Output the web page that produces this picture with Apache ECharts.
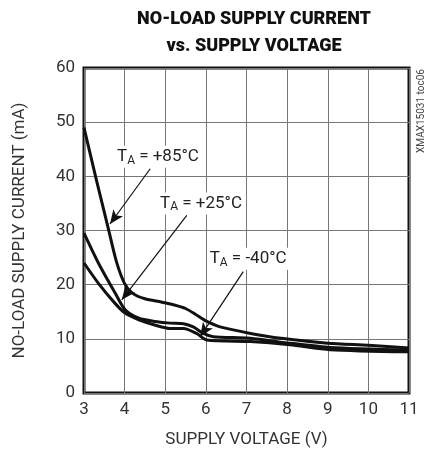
<!DOCTYPE html>
<html>
<head>
<meta charset="utf-8">
<script src="https://cdn.jsdelivr.net/npm/echarts@6/dist/echarts.min.js"></script>
<style>
html,body{margin:0;padding:0;background:#fff;}
#chart{width:429px;height:455px;}
</style>
</head>
<body>
<div id="chart"></div>
<script>
// Data
var v85 = [3.0, 3.3, 3.6, 3.8, 4.0, 4.2, 4.5, 4.9, 5.2, 5.5, 5.75, 6.0, 6.35, 7.1, 7.85, 9.0, 10.0, 11.0];
var i85 = [49.0, 39.5, 30.3, 24.2, 20.2, 18.4, 17.4, 16.8, 16.3, 15.6, 14.5, 13.3, 12.2, 11.0, 10.1, 9.2, 8.8, 8.3];
var v25 = [3.0, 3.36, 3.77, 4.02, 4.35, 4.76, 5.12, 5.45, 5.69, 5.94, 6.18, 7.09, 8.07, 9.06, 11.0];
var i25 = [29.5, 23.9, 18.4, 15.3, 13.8, 13.2, 12.9, 12.8, 12.2, 11.0, 10.4, 10.1, 9.2, 8.4, 7.9];
var vM40 = [3.0, 3.36, 3.77, 4.02, 4.35, 4.76, 5.12, 5.45, 5.77, 6.02, 7.09, 8.07, 9.06, 11.0];
var iM40 = [24.0, 20.2, 16.5, 14.7, 13.5, 12.5, 11.9, 11.9, 11.0, 9.8, 9.5, 8.9, 8.0, 7.6];
var xTicks = [3, 4, 5, 6, 7, 8, 9, 10, 11];
var yTicks = [0, 10, 20, 30, 40, 50, 60];
var seriesNames = ['+85', '+25', '-40'];
// Annotation anchors (data coordinates): label centre, arrow start, arrow tip
var labelAt = [[4.82, 43.6], [5.88, 35.0], [7.04, 24.8]];
var arrowFrom = [[4.63, 41.4], [5.53, 32.8], [6.92, 22.4]];
var arrowTo = [[3.64, 31.2], [3.93, 17.2], [5.86, 10.4]];

function pairs(xs, ys) { return xs.map(function (x, k) { return [x, ys[k]]; }); }
var FONT = 'Roboto, "Noto Sans", sans-serif';
var datasets = [pairs(v85, i85), pairs(v25, i25), pairs(vM40, iM40)];

var chart = echarts.init(document.getElementById('chart'), null, {renderer: 'canvas'});
var series = datasets.map(function (d, k) {
  return {
    type: 'line',
    name: seriesNames[k],
    data: d,
    showSymbol: false,
    smooth: 0.25,
    lineStyle: {color: '#111', width: 3},
    z: 5,
    markLine: {
      silent: true,
      symbol: ['none', 'arrow'],
      symbolSize: [9, 14],
      label: {show: false},
      lineStyle: {color: '#111', width: 1.2, type: 'solid'},
      data: [[{coord: arrowFrom[k]}, {coord: arrowTo[k]}]]
    },
    markPoint: {
      silent: true,
      symbol: 'rect',
      symbolSize: 0.1,
      data: [{coord: labelAt[k]}],
      label: {
        show: true,
        position: 'inside',
        formatter: '{t|T}{s|A}{t| = ' + seriesNames[k] + '°C}',
        backgroundColor: '#fff',
        padding: [1, 2],
        rich: {
          t: {fontFamily: FONT, fontSize: 17, color: '#222'},
          s: {fontFamily: FONT, fontSize: 12, color: '#222', padding: [8, 0, 0, 0]}
        }
      }
    }
  };
});

chart.setOption({
  animation: false,
  backgroundColor: '#fff',
  title: {
    text: 'NO-LOAD SUPPLY CURRENT\nvs. SUPPLY VOLTAGE',
    left: 249, top: 1, textAlign: 'center',
    textStyle: {fontFamily: FONT, fontSize: 18, fontWeight: 900, color: '#111', lineHeight: 27}
  },
  grid: {left: 84, right: 20, top: 68, bottom: 62, show: true, borderColor: '#111', borderWidth: 3, backgroundColor: 'transparent'},
  xAxis: {
    type: 'value', min: xTicks[0], max: xTicks[xTicks.length - 1], interval: 1,
    name: 'SUPPLY VOLTAGE (V)', nameLocation: 'middle', nameGap: 38,
    nameTextStyle: {fontFamily: FONT, fontSize: 17, color: '#333'},
    axisLine: {show: false}, axisTick: {show: false},
    axisLabel: {fontFamily: FONT, fontSize: 17, color: '#333', margin: 8},
    splitLine: {show: true, lineStyle: {color: '#777', width: 1}}
  },
  yAxis: {
    type: 'value', min: yTicks[0], max: yTicks[yTicks.length - 1], interval: 10,
    name: 'NO-LOAD SUPPLY CURRENT (mA)', nameLocation: 'middle', nameGap: 56,
    nameTextStyle: {fontFamily: FONT, fontSize: 17, color: '#333'},
    axisLine: {show: false}, axisTick: {show: false},
    axisLabel: {fontFamily: FONT, fontSize: 17, color: '#333', margin: 9},
    splitLine: {show: true, lineStyle: {color: '#777', width: 1}}
  },
  graphic: [{
    type: 'text', x: 421, y: 111, rotation: Math.PI / 2,
    style: {text: 'XMAX15031 toc06', fontFamily: FONT, fontSize: 10, fill: '#444', align: 'center', verticalAlign: 'middle'}
  }],
  series: series
});
</script>
</body>
</html>
